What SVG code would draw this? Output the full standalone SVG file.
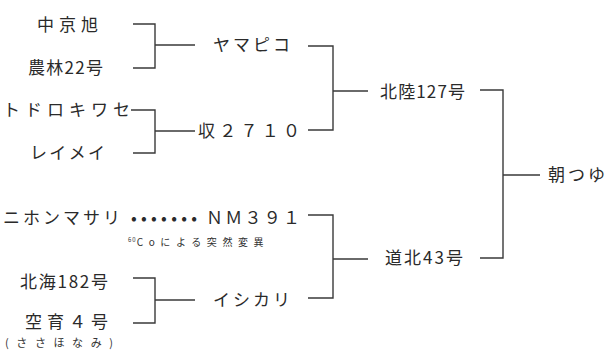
<svg xmlns="http://www.w3.org/2000/svg" width="611" height="353" viewBox="0 0 611 353">
<style>
.t{font-family:"Noto Sans CJK JP","Noto Sans",sans-serif;font-size:17px;fill:#2a2a2a;}
.s{font-family:"Noto Sans CJK JP","Noto Sans",sans-serif;font-size:10px;fill:#333;}
.m{font-family:"Noto Sans CJK JP","Noto Sans",sans-serif;font-size:11px;fill:#333;}
.c{fill:none;stroke:#3a3a3a;stroke-width:1.4;}
</style>
<rect width="611" height="353" fill="#ffffff"/>
<g id="n-chukyoasahi"><text class="t" x="37" y="31" textLength="61" lengthAdjust="spacing">中京旭</text></g>
<g id="n-norin22"><text class="t" x="28" y="74" textLength="75" lengthAdjust="spacing">農林22号</text></g>
<g id="n-todorokiwase"><text class="t" x="3" y="116" textLength="127" lengthAdjust="spacing">トドロキワセ</text></g>
<g id="n-reimei"><text class="t" x="30" y="159" textLength="75" lengthAdjust="spacing">レイメイ</text></g>
<g id="n-yamabiko"><text class="t" x="213" y="51" textLength="77" lengthAdjust="spacing">ヤマピコ</text></g>
<g id="n-shu2710"><text class="t" x="198" y="137" textLength="102" lengthAdjust="spacing">収２７１０</text></g>
<g id="n-hokuriku127"><text class="t" x="380" y="98" textLength="85" lengthAdjust="spacing">北陸127号</text></g>
<g id="n-asatsuyu"><text class="t" x="548" y="181" textLength="57" lengthAdjust="spacing">朝つゆ</text></g>
<g id="n-nihonmasari"><text class="t" x="3" y="224" textLength="117" lengthAdjust="spacing">ニホンマサリ</text></g>
<g id="n-dots"><text class="t" x="131" y="224" textLength="66" lengthAdjust="spacing">•••••••</text></g>
<g id="n-nm391"><text class="t" x="206" y="224" textLength="94" lengthAdjust="spacing">ＮＭ３９１</text>
<text class="s" x="128" y="246"><tspan font-size="6" dy="-4" letter-spacing="1">60</tspan><tspan dy="4" letter-spacing="5.6">Coによる突然変異</tspan></text></g>
<g id="n-dohoku43"><text class="t" x="385" y="264" textLength="78" lengthAdjust="spacing">道北43号</text></g>
<g id="n-hokkai182"><text class="t" x="20" y="288" textLength="88" lengthAdjust="spacing">北海182号</text></g>
<g id="n-kuiku4"><text class="t" x="25" y="328" textLength="83" lengthAdjust="spacing">空育４号</text>
<text class="m" x="5" y="347" textLength="108" lengthAdjust="spacing">(ささほなみ)</text></g>
<g id="n-ishikari"><text class="t" x="213" y="306" textLength="77" lengthAdjust="spacing">イシカリ</text></g>
<g id="connectors">
<path class="c" d="M133,24 H155 V68 H133 M155,45 H195"/>
<path class="c" d="M131,110 H155 V153 H133 M155,131 H195"/>
<path class="c" d="M308,46 H333 V130 H308 M333,91 H368"/>
<path class="c" d="M133,278 H155 V323 H133 M155,300 H195"/>
<path class="c" d="M308,215 H333 V298 H308 M333,259 H368"/>
<path class="c" d="M480,90 H503 V258 H480 M503,175 H540"/>
</g>
</svg>
